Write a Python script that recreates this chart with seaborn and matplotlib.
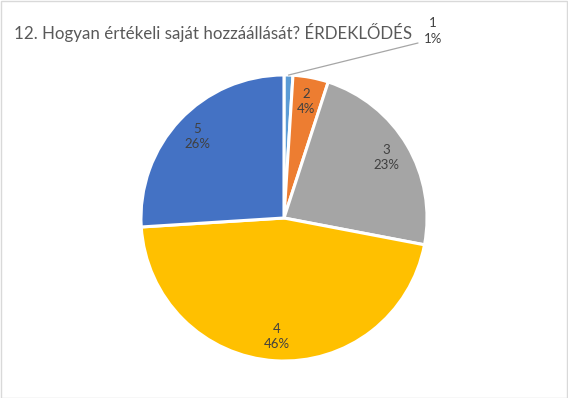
import numpy as np
import matplotlib
matplotlib.use("Agg")
import matplotlib.pyplot as plt
import seaborn as sns

categories = ["1", "2", "3", "4", "5"]
values = [1, 4, 23, 46, 26]
colors = ["#5B9BD5", "#ED7D31", "#A5A5A5", "#FFC000", "#4472C4"]
title = "12. Hogyan értékeli saját hozzáállását? ÉRDEKLŐDÉS"

sns.set_theme(style="white")
plt.rcParams['font.family'] = ['Lato', 'DejaVu Sans']

W, H = 568, 398
fig = plt.figure(figsize=(W / 100, H / 100), dpi=100)
ax = fig.add_axes([0, 0, 1, 1])

cx, cy, R = 284, H - 218, 143
labels = [f"{c}\n{v}%" for c, v in zip(categories, values)]
wedges, texts = ax.pie(values, colors=colors, startangle=90, counterclock=False,
                       center=(cx, cy), radius=R, explode=[0.025] * len(values),
                       labels=[""] + labels[1:], labeldistance=0.83,
                       wedgeprops=dict(edgecolor="white", linewidth=2.2),
                       textprops=dict(fontsize=9.5, color="#404040"),
                       frame=True)
for t in texts:
    t.set_ha("center")
    t.set_va("center")
    t.set_linespacing(1.35)
ax.set_xlim(0, W)
ax.set_ylim(0, H)
ax.set_aspect("equal")
ax.axis("off")

# outside label for the first slice
w = wedges[0]
ang = np.deg2rad((w.theta1 + w.theta2) / 2)
x0 = w.center[0] + w.r * np.cos(ang)
y0 = w.center[1] + w.r * np.sin(ang)
ax.plot([x0, 418], [y0, H - 43], color="#A6A6A6", lw=0.9)
ax.text(433, H - 31, labels[0], fontsize=9.5, color="#404040", ha="center", va="center",
        linespacing=1.35)

fig.text(14 / W, 1 - 32 / H, title, fontsize=12.2, color="#595959", ha="left", va="center")

# chart border
fig.patches.append(plt.Rectangle((0.5 / W, 0.5 / H), 1 - 1.5 / W, 1 - 1.5 / H,
                                 transform=fig.transFigure, fill=False,
                                 edgecolor="#D9D9D9", lw=1))
fig.savefig("out.png", dpi=100)
